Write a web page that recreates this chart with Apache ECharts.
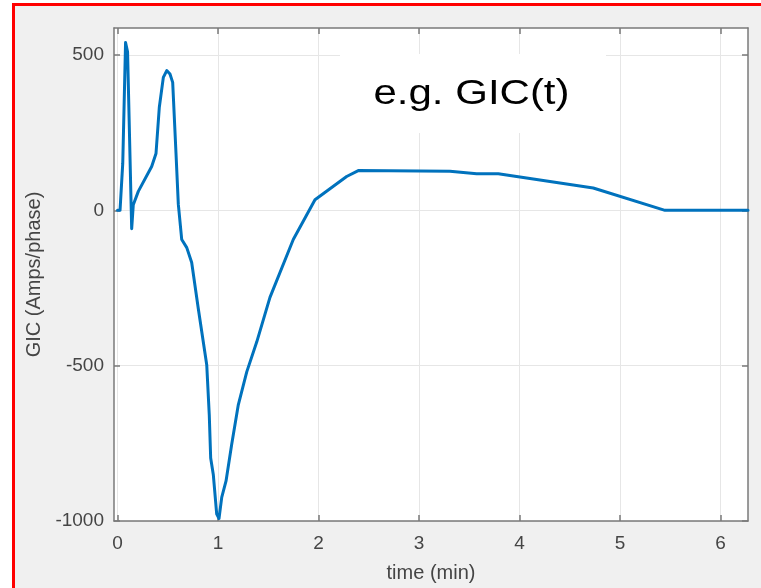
<!DOCTYPE html>
<html>
<head>
<meta charset="utf-8">
<script src="https://cdn.jsdelivr.net/npm/echarts@6/dist/echarts.min.js"></script>
<style>
html,body{margin:0;padding:0;width:761px;height:588px;overflow:hidden;background:#fff;}
#frame{position:absolute;left:12px;top:3px;width:800px;height:700px;border:3px solid #ff0000;background:#f0f0f0;}
#chart{position:absolute;left:0;top:0;width:761px;height:588px;}
</style>
</head>
<body>
<div id="frame"></div>
<div id="chart"></div>
<script>
// time in minutes
var times = [0, 0.025, 0.052, 0.08, 0.10, 0.141, 0.157, 0.207, 0.34, 0.383, 0.416, 0.456, 0.49, 0.522, 0.549, 0.582, 0.605, 0.639, 0.689, 0.738, 0.804, 0.888, 0.913, 0.927, 0.953, 0.987, 1.01, 1.037, 1.08, 1.136, 1.202, 1.286, 1.385, 1.517, 1.749, 1.965, 2.28, 2.396, 3.308, 3.574, 3.789, 4.734, 5.448, 6.274];
// GIC (Amps/phase)
var gic = [0, 0, 151, 540, 510, -59, 18, 61, 141, 183, 332, 428, 450, 439, 412, 183, 20, -94, -120, -168, -317, -498, -658, -797, -850, -978, -992, -924, -871, -754, -626, -520, -424, -280, -94, 34, 109, 128, 126, 118, 118, 72, 0, 0];
var xTicks = [0, 1, 2, 3, 4, 5, 6];
var yTicks = [-1000, -500, 0, 500];
var annotation = 'e.g. GIC(t)';
var xName = 'time (min)';
var yName = 'GIC (Amps/phase)';

var data = times.map(function (t, i) { return [t, gic[i]]; });
var FONT = '"Liberation Sans", Arial, sans-serif';
var axisCol = '#7a7a7a';
var txtCol = '#454545';
var gridCol = '#e6e6e6';
var xMin = -0.035, xMax = 6.274, yMin = -1000, yMax = 587;
function plain(v) { return String(v); }

var chart = echarts.init(document.getElementById('chart'), null, {renderer: 'canvas'});
chart.setOption({
  backgroundColor: 'transparent',
  animation: false,
  grid: {left: 114, right: 13, top: 28, bottom: 66, show: true, backgroundColor: '#ffffff', borderWidth: 0},
  xAxis: [{
    type: 'value', min: xMin, max: xMax, position: 'bottom',
    name: xName, nameLocation: 'middle', nameGap: 42,
    nameTextStyle: {fontFamily: FONT, fontSize: 20, color: txtCol},
    axisLine: {show: true, onZero: false, lineStyle: {color: axisCol, width: 1.5}},
    axisTick: {show: true, inside: true, length: 6, customValues: xTicks, lineStyle: {color: axisCol, width: 1.5}},
    axisLabel: {show: true, customValues: xTicks, formatter: plain, margin: 13, fontFamily: FONT, fontSize: 19, color: txtCol},
    splitLine: {show: true, lineStyle: {color: gridCol, width: 1}}
  }, {
    type: 'value', min: xMin, max: xMax, position: 'top',
    axisLine: {show: true, onZero: false, lineStyle: {color: axisCol, width: 1.5}},
    axisTick: {show: true, inside: true, length: 6, customValues: xTicks, lineStyle: {color: axisCol, width: 1.5}},
    axisLabel: {show: false, customValues: xTicks},
    splitLine: {show: false}
  }],
  yAxis: [{
    type: 'value', min: yMin, max: yMax, position: 'left',
    name: yName, nameLocation: 'middle', nameGap: 64, nameRotate: 90,
    nameTextStyle: {fontFamily: FONT, fontSize: 20, color: txtCol},
    axisLine: {show: true, onZero: false, lineStyle: {color: axisCol, width: 1.5}},
    axisTick: {show: true, inside: true, length: 6, customValues: yTicks, lineStyle: {color: axisCol, width: 1.5}},
    axisLabel: {show: true, customValues: yTicks, formatter: plain, margin: 10, fontFamily: FONT, fontSize: 19, color: txtCol},
    splitLine: {show: true, lineStyle: {color: gridCol, width: 1}}
  }, {
    type: 'value', min: yMin, max: yMax, position: 'right',
    axisLine: {show: true, onZero: false, lineStyle: {color: axisCol, width: 1.5}},
    axisTick: {show: true, inside: true, length: 6, customValues: yTicks, lineStyle: {color: axisCol, width: 1.5}},
    axisLabel: {show: false, customValues: yTicks},
    splitLine: {show: false}
  }],
  series: [{
    type: 'line', data: data, xAxisIndex: 0, yAxisIndex: 0,
    showSymbol: false, symbol: 'none', smooth: false,
    lineStyle: {color: '#0072BD', width: 3, join: 'round', cap: 'round'},
    z: 3
  }],
  graphic: [{
    type: 'rect', z: 50,
    shape: {x: 340, y: 54, width: 266, height: 79},
    style: {fill: '#ffffff'}
  }, {
    type: 'text', z: 51, x: 471.5, y: 94, scaleX: 1.2,
    style: {text: annotation, x: 0, y: 0, font: '35px ' + FONT, fill: '#000000', textAlign: 'center', textVerticalAlign: 'middle', align: 'center', verticalAlign: 'middle'}
  }]
});
</script>
</body>
</html>
